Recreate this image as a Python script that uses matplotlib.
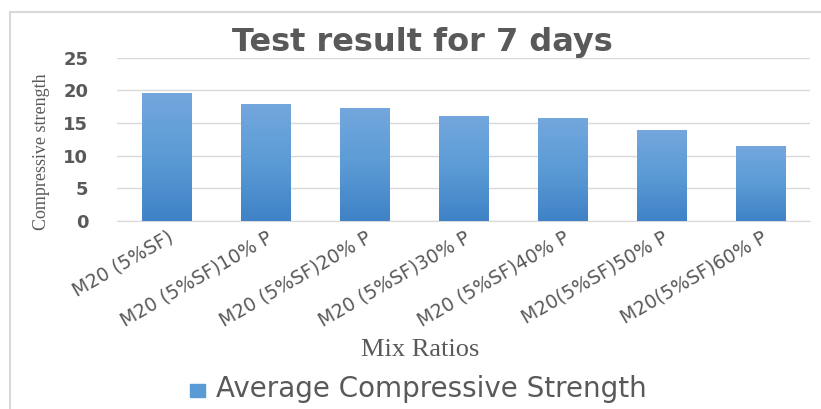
import numpy as np
import matplotlib.pyplot as plt
from matplotlib.patches import Rectangle
from matplotlib.colors import LinearSegmentedColormap

# данные
mixes = ["M20 (5%SF)", "M20 (5%SF)10% P", "M20 (5%SF)20% P", "M20 (5%SF)30% P",
         "M20 (5%SF)40% P", "M20(5%SF)50% P", "M20(5%SF)60% P"]
strength = [19.6, 17.85, 17.25, 16.05, 15.7, 13.85, 11.4]

grey = "#595959"

fig = plt.figure(figsize=(8.21, 4.09), dpi=100)
ax = fig.add_axes([0.1431, 0.4604, 0.8441, 0.3985])

# рамка вокруг диаграммы
fig.patches.append(Rectangle((10 / 821, -0.5), 2.0, 1.5 - 12 / 409, transform=fig.transFigure,
                             fill=False, edgecolor="#d9d9d9", linewidth=1.5))

x = np.arange(len(mixes))
bars = ax.bar(x, strength, width=0.5, color="#5b9bd5", zorder=2)

# градиент на столбцах
cmap = LinearSegmentedColormap.from_list("g", ["#3f82c6", "#5b9bd5", "#73a7dd"])
grad = np.linspace(0, 1, 100).reshape(-1, 1)
for b in bars:
    bx, by = b.get_x(), b.get_y()
    im = ax.imshow(grad, cmap=cmap, origin="lower", aspect="auto", zorder=3,
                   extent=[bx, bx + b.get_width(), by, by + b.get_height()])
    im.set_clip_path(b)

ax.set_xlim(-0.5, len(mixes) - 0.5)
ax.set_ylim(0, 25)
ax.set_yticks(range(0, 26, 5))
ax.yaxis.grid(True, color="#d9d9d9", linewidth=1, zorder=0)
ax.set_axisbelow(True)
for s in ["top", "right", "left"]:
    ax.spines[s].set_visible(False)
ax.spines["bottom"].set_color("#d9d9d9")
ax.tick_params(length=0)
ax.tick_params(axis="y", pad=21, labelsize=13, labelcolor=grey)
for t in ax.get_yticklabels():
    t.set_fontweight("bold")
    t.set_fontfamily("DejaVu Sans")

ax.set_xticks(x)
ax.set_xticklabels(mixes, rotation=30, ha="right", rotation_mode="anchor",
                   fontsize=13.5, color=grey, fontfamily="DejaVu Sans")
ax.tick_params(axis="x", pad=5)

fig.text(0.515, 0.895, "Test result for 7 days", ha="center", va="center",
         fontsize=23, fontweight="bold", color=grey, fontfamily="DejaVu Sans")
fig.text(0.05, 0.628, "Compressive strength", rotation=90, ha="center", va="center",
         fontsize=13, color=grey, fontfamily="Liberation Serif")
fig.text(0.512, 0.145, "Mix Ratios", ha="center", va="center",
         fontsize=19, color=grey, fontfamily="Liberation Serif")

# легенда
fig.patches.append(Rectangle((190 / 821, 1 - 397 / 409), 15 / 821, 13 / 409,
                             transform=fig.transFigure, color="#5b9bd5"))
fig.text(216 / 821, 1 - 389 / 409, "Average Compressive Strength", ha="left", va="center",
         fontsize=20, color=grey, fontfamily="DejaVu Sans")

fig.savefig("out.png", dpi=100)
